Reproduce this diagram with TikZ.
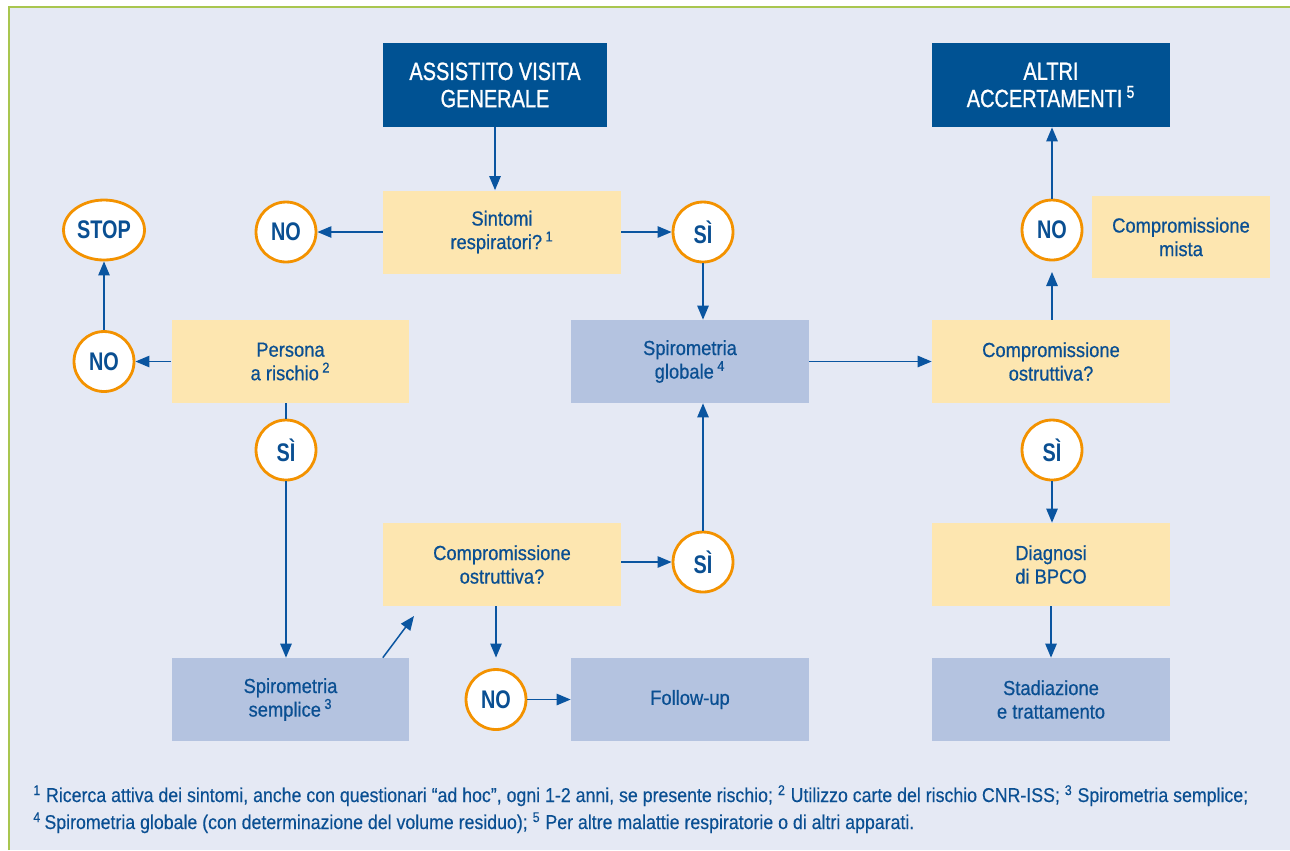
\documentclass[tikz,border=0pt]{standalone}
\usepackage{fontspec}
\setmainfont{Liberation Sans}[FakeStretch=0.9, FakeBold=0.6]
\newfontfamily\headfont{Liberation Sans}[FakeStretch=0.8, FakeBold=1]
\newfontfamily\answerfont{Liberation Sans}[FakeStretch=0.78]
\newfontfamily\notefont{Liberation Sans}[FakeStretch=0.886, FakeBold=0.3]
\usetikzlibrary{positioning,shapes.geometric,arrows.meta}

\definecolor{panelbg}{RGB}{229,233,244}
\definecolor{panelline}{RGB}{169,198,79}
\definecolor{darkblue}{RGB}{0,82,147}
\definecolor{textblue}{RGB}{10,79,146}
\definecolor{lineblue}{RGB}{10,85,160}
\definecolor{askyellow}{RGB}{253,230,176}
\definecolor{actgrey}{RGB}{180,195,224}
\definecolor{answerorange}{RGB}{243,146,0}

\begin{document}
\begin{tikzpicture}[%
    x=0.02cm,
    y=-0.02cm,
    flow/.style={%
      draw=lineblue,
      line width=0.85pt,
      -{Triangle[length=8pt,width=6.5pt]}
    },
    head/.style={%
      rectangle,
      fill=darkblue,
      text=white,
      minimum width=4.48cm,
      minimum height=1.68cm,
      align=center,
      font=\headfont\fontsize{14.2}{15.5}\selectfont
    },
    ask/.style={%
      rectangle,
      fill=askyellow,
      text=textblue,
      minimum width=4.76cm,
      minimum height=1.66cm,
      align=center,
      font=\fontsize{11.6}{13.4}\selectfont
    },
    act/.style={ask, fill=actgrey},
    answer/.style={%
      circle,
      draw=answerorange,
      line width=1.6pt,
      fill=white,
      minimum size=1.2cm,
      inner sep=0pt,
      text=textblue,
      font=\answerfont\bfseries\fontsize{14.5}{16}\selectfont
    },
    stopnode/.style={answer, ellipse, minimum width=1.62cm, minimum height=1.2cm},
    note/.style={anchor=base west, inner sep=0pt, text=textblue,
      font=\notefont\fontsize{11.4}{12}\selectfont}
  ]
    \useasboundingbox (0,0) rectangle (1290,850);
    \fill[panelbg] (9,7) rectangle (1290,850);
    \draw[panelline, line width=1.2pt] (9,850) -- (9,7) -- (1290,7);

    % top row
    \node[head] (assist) at (495,85)        {ASSISTITO VISITA\\GENERALE};
    \node[head, minimum width=4.76cm] (altri) at (1051,85) {ALTRI\\ACCERTAMENTI\,\textsuperscript{5}};
    \node[ask] (sint) at (502,232)           {Sintomi\\respiratori?\,\textsuperscript{1}};
    \node[answer] (noA) at (286,232)         {NO};
    \node[stopnode] (stop) at (104,230)      {STOP};
    \node[answer] (siA) at (703,232)         {SÌ};
    \node[answer] (noB) at (1052,230)        {NO};
    \node[ask, minimum width=3.56cm, minimum height=1.64cm] (mista) at (1181,237) {Compromissione\\mista};

    % middle row
    \node[ask] (pers) at (290.5,361.5)       {Persona\\a rischio\,\textsuperscript{2}};
    \node[answer] (noC) at (104,361.5)       {NO};
    \node[answer] (siB) at (286,450)         {SÌ};
    \node[act] (glob) at (690,361.5)         {Spirometria\\globale\,\textsuperscript{4}};
    \node[ask] (ostrR) at (1051,361.5)       {Compromissione\\ostruttiva?};
    \node[answer] (siC) at (1052,450)        {SÌ};

    % bottom rows
    \node[ask] (ostrM) at (502,564.5)        {Compromissione\\ostruttiva?};
    \node[answer] (siD) at (703,562)         {SÌ};
    \node[answer] (noD) at (496,699.5)       {NO};
    \node[act] (sempl) at (290.5,699.5)      {Spirometria\\semplice\,\textsuperscript{3}};
    \node[act] (follow) at (690,699.5)       {Follow-up};
    \node[ask] (diag) at (1051,564.5)        {Diagnosi\\di BPCO};
    \node[act] (stad) at (1051,699.5)        {Stadiazione\\e trattamento};
    \coordinate (diagtip) at (414,616);

    \draw[flow] (assist) -- (assist |- sint.north);
    \draw[flow] (sint) -- (noA);
    \draw[flow] (sint) -- (siA);
    \draw[flow] (siA) -- (siA |- glob.north);
    \draw[flow] (glob) -- (ostrR);
    \draw[flow, shorten >=6pt] (ostrR.north -| noB) -- (noB);
    \draw[flow] (noB) -- (noB |- altri.south);
    \draw[flow] (pers) -- (noC);
    \draw[flow] (noC) -- (stop);
    \draw[draw=lineblue, line width=0.85pt] (pers.south -| siB) -- (siB);
    \draw[flow] (siB) -- (siB |- sempl.north);
    \draw[flow] ([xshift=-0.54cm]sempl.north east) -- (diagtip);
    \draw[flow, shorten >=6pt] (ostrM.south -| noD) -- (noD);
    \draw[flow] (noD) -- (follow);
    \draw[flow] (ostrM.east |- siD) -- (siD);
    \draw[flow] (siD) -- (siD |- glob.south);
    \draw[flow] (siC) -- (siC |- diag.north);
    \draw[flow] (diag) -- (stad);

    % footnotes
    \node[note] (note1) at (33,802) {\textsuperscript{1} Ricerca attiva dei sintomi, anche con questionari “ad hoc”, ogni 1-2 anni, se presente rischio; \textsuperscript{2} Utilizzo carte del rischio CNR-ISS; \textsuperscript{3} Spirometria semplice;};
    \node[note] (note2) at (33,829) {\textsuperscript{4}\,Spirometria globale (con determinazione del volume residuo); \textsuperscript{5} Per altre malattie respiratorie o di altri apparati.};
\end{tikzpicture}
\end{document}
